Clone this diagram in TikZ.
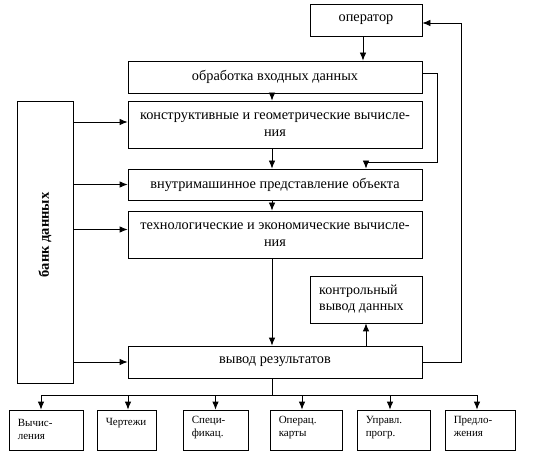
\documentclass[tikz,border=0pt]{standalone}
\usepackage{fontspec}
\setmainfont{Liberation Serif}
\usetikzlibrary{arrows.meta}
\begin{document}
\begin{tikzpicture}[x=1pt,y=-1pt,
  box/.style={draw,line width=0.8pt,inner sep=0pt,font=\fontsize{14.3}{17}\selectfont,align=center},
  small/.style={draw,line width=0.8pt,inner sep=0pt,minimum height=40pt},
  stxt/.style={font=\fontsize{11}{13}\selectfont,align=left,anchor=north west,inner sep=0pt},
  arr/.style={line width=0.8pt,-{Latex[length=8pt,width=6.5pt]}},
  ln/.style={line width=0.8pt}]
\useasboundingbox (0,0) rectangle (560,457);
% main boxes
\node[box,minimum width=112pt,minimum height=32pt] (op) at (366,20) {оператор};
\node[box,minimum width=294pt,minimum height=32pt] (obr) at (275,77) {обработка входных данных};
\node[box,minimum width=294pt,minimum height=47pt] (kon) at (275,124.5) {конструктивные и геометрические вычисле-\\ния};
\node[box,minimum width=294pt,minimum height=31pt] (vnu) at (275,184.5) {внутримашинное представление объекта};
\node[box,minimum width=294pt,minimum height=47pt] (tech) at (275,234.5) {технологические и экономические вычисле-\\ния};
\node[box,minimum width=112pt,minimum height=47pt] (ctrl) at (366,299.5) {};
\node[stxt,font=\fontsize{14}{16}\selectfont] (ctrlt) at (319,285) {контрольный\\вывод данных};
\node[box,minimum width=294pt,minimum height=32pt] (out) at (275,362) {вывод результатов};
\node[draw,line width=0.8pt,minimum width=56pt,minimum height=282pt,inner sep=0pt] (bank) at (45,242) {};
\node[rotate=90,font=\fontsize{14.5}{16}\selectfont\bfseries,inner sep=0pt] (bankt) at (45,235) {банк данных};
% bottom boxes
\node[small,minimum width=74pt] (b1) at (46,430) {};
\node[small,minimum width=59pt] (b2) at (126.5,430) {};
\node[small,minimum width=65pt] (b3) at (215.5,430) {};
\node[small,minimum width=72pt] (b4) at (306,430) {};
\node[small,minimum width=73pt] (b5) at (393.5,430) {};
\node[small,minimum width=70pt] (b6) at (480,430) {};
\node[stxt] (t1) at ([xshift=9pt,yshift=-9pt]b1.north west) {Вычис-\\ления};
\node[stxt] (t2) at ([xshift=9pt,yshift=-8pt]b2.north west) {Чертежи};
\node[stxt] (t3) at ([xshift=9pt,yshift=-6pt]b3.north west) {Специ-\\фикац.};
\node[stxt] (t4) at ([xshift=9pt,yshift=-6pt]b4.north west) {Операц.\\карты};
\node[stxt] (t5) at ([xshift=9pt,yshift=-6pt]b5.north west) {Управл.\\прогр.};
\node[stxt] (t6) at ([xshift=9pt,yshift=-6pt]b6.north west) {Предло-\\жения};
% coordinates
\coordinate (j1) at (437,162);
\coordinate (j2) at (461,23);
\coordinate (bus) at (272,395);
% vertical chain
\draw[arr] ([xshift=-3pt]op.south) -- ([xshift=-3pt]obr.north -| op);
\draw[arr] ([xshift=-3pt]obr.south) -- ([xshift=-3pt]kon.north);
\draw[arr] ([xshift=-3pt]kon.south) -- ([xshift=-3pt]vnu.north);
\draw[arr] ([xshift=-3pt]vnu.south) -- ([xshift=-3pt]tech.north);
\draw[arr] ([xshift=-3pt]tech.south) -- ([xshift=-3pt]out.north);
\draw[arr] (out.north -| ctrl) -- (ctrl.south);
% side loops
\draw[arr] ([yshift=4pt]obr.east) -| (j1) -| (vnu.north -| op);
\draw[arr] (out.east) -| (j2) -- ([yshift=-3pt]op.east);
% bank arrows
\draw[arr] (bank.east |- kon) ++(0,-2.5) -- ([yshift=2.5pt]kon.west);
\draw[arr] (bank.east |- vnu) -- (vnu.west);
\draw[arr] (bank.east |- tech) ++(0,-5) -- ([yshift=5pt]tech.west);
\draw[arr] (bank.east |- out) -- (out.west);
% bottom distribution
\draw[ln] ([xshift=-3pt]out.south) -- (bus);
\draw[ln] ([xshift=-5pt]b1.north |- bus) -- ([xshift=-3pt]b6.north |- bus);
\draw[arr] ([xshift=-5pt]b1.north |- bus) -- ([xshift=-5pt]b1.north);
\draw[arr] ([xshift=1.5pt]b2.north |- bus) -- ([xshift=1.5pt]b2.north);
\draw[arr] (b3.north |- bus) -- (b3.north);
\draw[arr] ([xshift=-4pt]b4.north |- bus) -- ([xshift=-4pt]b4.north);
\draw[arr] ([xshift=-3.5pt]b5.north |- bus) -- ([xshift=-3.5pt]b5.north);
\draw[arr] ([xshift=-3pt]b6.north |- bus) -- ([xshift=-3pt]b6.north);
\end{tikzpicture}
\end{document}
